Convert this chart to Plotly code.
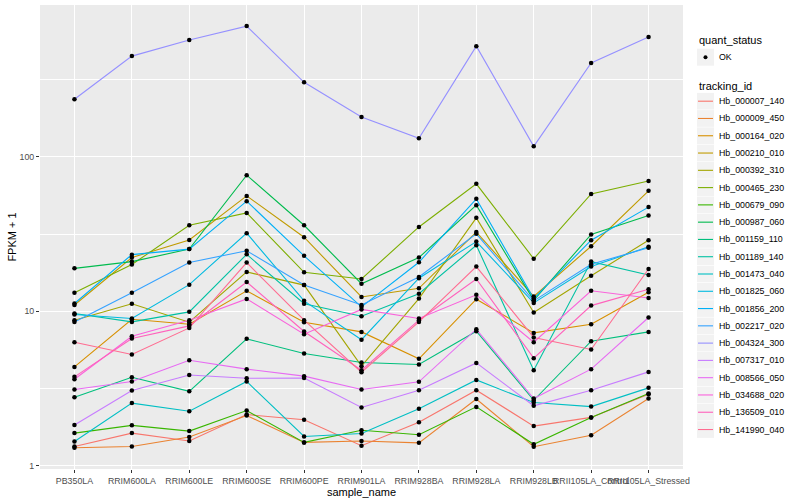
import plotly.graph_objects as go

samples = ["PB350LA", "RRIM600LA", "RRIM600LE", "RRIM600SE", "RRIM600PE", "RRIM901LA",
           "RRIM928BA", "RRIM928LA", "RRIM928LB", "RRII105LA_Control", "RRII105LA_Stressed"]

# FPKM + 1 values per tracking_id
Hb_000007_140 = [1.335, 1.63, 1.45, 2.15, 1.99, 1.35, 1.92, 3.09, 1.81, 2.06, 2.91]
Hb_000009_450 = [1.31, 1.335, 1.54, 2.12, 1.42, 1.45, 1.41, 2.71, 1.33, 1.58, 2.73]
Hb_000164_020 = [4.37, 8.90, 8.26, 13.6, 8.51, 7.37, 4.93, 12.0, 7.26, 8.26, 13.3]
Hb_000210_010 = [11.0, 22.3, 29.0, 55.9, 30.2, 12.4, 14.1, 32.6, 12.5, 26.4, 60.3]
Hb_000392_310 = [8.77, 11.2, 8.51, 18.0, 14.8, 4.42, 12.1, 40.3, 9.84, 17.0, 28.9]
Hb_000465_230 = [13.2, 20.1, 36.1, 43.4, 17.9, 16.2, 35.2, 66.9, 21.9, 57.6, 69.9]
Hb_000679_090 = [1.63, 1.83, 1.68, 2.28, 1.42, 1.70, 1.59, 2.41, 1.38, 2.06, 2.94]
Hb_000987_060 = [19.0, 21.0, 25.3, 76.1, 36.1, 15.1, 22.3, 48.7, 11.8, 31.5, 41.8]
Hb_001159_110 = [2.78, 3.75, 3.04, 6.64, 5.34, 4.67, 4.53, 7.44, 2.66, 6.41, 7.37]
Hb_001189_140 = [9.69, 8.55, 9.93, 23.4, 11.2, 9.31, 13.0, 26.8, 4.16, 21.0, 17.2]
Hb_001473_040 = [1.44, 2.55, 2.26, 3.52, 1.55, 1.62, 2.34, 3.60, 2.57, 2.42, 3.20]
Hb_001825_060 = [9.55, 9.0, 14.9, 32.1, 11.7, 6.56, 16.4, 28.3, 11.35, 19.5, 26.2]
Hb_001856_200 = [11.25, 23.3, 25.3, 51.7, 22.9, 10.7, 20.8, 53.5, 12.1, 28.9, 47.3]
Hb_002217_020 = [8.55, 13.2, 20.7, 24.7, 14.8, 11.0, 16.7, 31.8, 11.7, 20.2, 25.8]
Hb_004324_300 = [236, 449, 570, 702, 304, 181, 132, 521, 117, 405, 596]
Hb_007317_010 = [1.84, 3.08, 3.88, 3.69, 3.71, 2.39, 3.09, 4.64, 2.45, 3.09, 4.06]
Hb_008566_050 = [3.12, 3.52, 4.83, 4.23, 3.81, 3.12, 3.50, 7.67, 2.73, 4.23, 9.13]
Hb_034688_020 = [3.64, 6.91, 8.77, 12.05, 7.12, 10.3, 9.0, 12.8, 6.32, 13.6, 12.2]
Hb_136509_010 = [3.77, 6.68, 8.06, 15.5, 7.41, 4.16, 8.77, 16.2, 4.98, 10.9, 13.9]
Hb_141990_040 = [6.32, 5.26, 7.82, 20.7, 8.77, 4.04, 8.55, 19.5, 6.78, 5.67, 18.8]

tracking_ids = ["Hb_000007_140", "Hb_000009_450", "Hb_000164_020", "Hb_000210_010",
                "Hb_000392_310", "Hb_000465_230", "Hb_000679_090", "Hb_000987_060",
                "Hb_001159_110", "Hb_001189_140", "Hb_001473_040", "Hb_001825_060",
                "Hb_001856_200", "Hb_002217_020", "Hb_004324_300", "Hb_007317_010",
                "Hb_008566_050", "Hb_034688_020", "Hb_136509_010", "Hb_141990_040"]
series = [Hb_000007_140, Hb_000009_450, Hb_000164_020, Hb_000210_010, Hb_000392_310,
          Hb_000465_230, Hb_000679_090, Hb_000987_060, Hb_001159_110, Hb_001189_140,
          Hb_001473_040, Hb_001825_060, Hb_001856_200, Hb_002217_020, Hb_004324_300,
          Hb_007317_010, Hb_008566_050, Hb_034688_020, Hb_136509_010, Hb_141990_040]
colors = ["#F8766D", "#EA8331", "#D89000", "#C09B00", "#A3A500", "#7CAE00", "#39B600",
          "#00BB4E", "#00BF7D", "#00C1A3", "#00BFC4", "#00BAE0", "#00B0F6", "#35A2FF",
          "#9590FF", "#C77CFF", "#E76BF3", "#FA62DB", "#FF62BC", "#FF6C91"]
quant_status = ["OK"]

FONT = "Liberation Sans, Arial, Helvetica, sans-serif"

fig = go.Figure()
for name, vals, col in zip(tracking_ids, series, colors):
    fig.add_trace(go.Scatter(x=samples, y=vals, mode="lines", name=name,
                             line=dict(color=col, width=1.1), showlegend=False))

all_x = [s for vals in series for s in samples]
all_y = [v for vals in series for v in vals]
fig.add_trace(go.Scatter(x=all_x, y=all_y, mode="markers", name=quant_status[0],
                         marker=dict(color="black", size=4.5), showlegend=False))

# plot area in pixels
PL, PT, PW, PH = 40, 5, 643, 464
W, H = 800, 500


def fx(px):
    return (px - PL) / PW


def fy(py):
    return 1 - (py - PT) / PH


shapes = []
annotations = []

# legend: quant_status
annotations.append(dict(x=fx(697), y=fy(40.5), xref="paper", yref="paper", text="quant_status",
                        showarrow=False, xanchor="left", yanchor="middle",
                        font=dict(family=FONT, size=11, color="black")))
shapes.append(dict(type="rect", xref="paper", yref="paper", x0=fx(697), x1=fx(714),
                   y0=fy(48.7), y1=fy(65.7), fillcolor="#F2F2F2", line=dict(width=0), layer="above"))
shapes.append(dict(type="circle", xref="paper", yref="paper", x0=fx(703.5), x1=fx(707.5),
                   y0=fy(55.2), y1=fy(59.2), fillcolor="black", line=dict(width=0), layer="above"))
annotations.append(dict(x=fx(717), y=fy(57.2), xref="paper", yref="paper", text=quant_status[0],
                        showarrow=False, xanchor="left", yanchor="middle",
                        font=dict(family=FONT, size=8.8, color="black")))

# legend: tracking_id
annotations.append(dict(x=fx(697), y=fy(85.5), xref="paper", yref="paper", text="tracking_id",
                        showarrow=False, xanchor="left", yanchor="middle",
                        font=dict(family=FONT, size=11, color="black")))
step = 17.28
for i, (name, col) in enumerate(zip(tracking_ids, colors)):
    cy = 101.2 + i * step
    shapes.append(dict(type="rect", xref="paper", yref="paper", x0=fx(697), x1=fx(714),
                       y0=fy(cy - step / 2 + 0.3), y1=fy(cy + step / 2 - 0.3),
                       fillcolor="#F2F2F2", line=dict(width=0), layer="above"))
    shapes.append(dict(type="line", xref="paper", yref="paper", x0=fx(698), x1=fx(713),
                       y0=fy(cy), y1=fy(cy), line=dict(color=col, width=1.1), layer="above"))
    annotations.append(dict(x=fx(717), y=fy(cy), xref="paper", yref="paper", text=name,
                            showarrow=False, xanchor="left", yanchor="middle",
                            font=dict(family=FONT, size=8.8, color="black")))

fig.update_layout(
    width=W, height=H,
    margin=dict(l=PL, r=W - PL - PW, t=PT, b=H - PT - PH, pad=0),
    paper_bgcolor="white", plot_bgcolor="#EBEBEB",
    font=dict(family=FONT, size=11, color="black"),
    shapes=shapes, annotations=annotations,
    showlegend=False,
)
fig.update_xaxes(
    type="category", categoryorder="array", categoryarray=samples,
    range=[-0.6, 10.6], tickangle=0,
    showgrid=True, gridcolor="white", gridwidth=1.1,
    ticks="outside", ticklen=3, tickwidth=1, tickcolor="#333333",
    tickfont=dict(family=FONT, size=8.8, color="#4D4D4D"),
    showline=False, zeroline=False, automargin=False,
    title=dict(text="sample_name", standoff=0, font=dict(family=FONT, size=11, color="black")),
)
fig.update_yaxes(
    type="log", range=[-0.02, 2.983],
    tickvals=[1, 10, 100], ticktext=["1", "10", "100"],
    showgrid=True, gridcolor="white", gridwidth=1.1,
    minor=dict(tickvals=[3.162, 31.62, 316.2], showgrid=True, gridcolor="white",
               gridwidth=0.55, ticks=""),
    ticks="outside", ticklen=3, tickwidth=1, tickcolor="#333333",
    tickfont=dict(family=FONT, size=8.8, color="#4D4D4D"),
    showline=False, zeroline=False, automargin=False,
    title=dict(text="FPKM + 1", standoff=0, font=dict(family=FONT, size=11, color="black")),
)

fig.write_html("out.html", config={"displayModeBar": False},
               post_script="document.body.style.margin='0';document.body.style.overflow='hidden';")
